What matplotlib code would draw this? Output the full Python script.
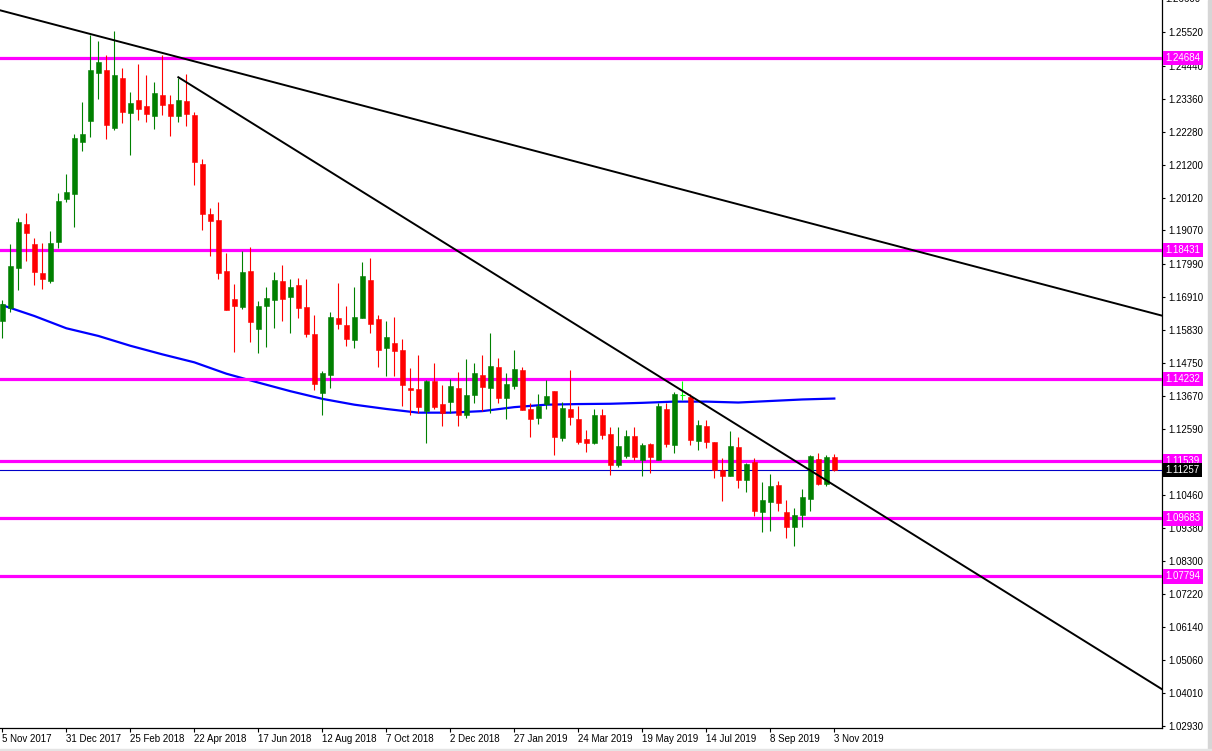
import numpy as np
import matplotlib
matplotlib.use("Agg")
import matplotlib.pyplot as plt
from matplotlib.patches import Rectangle
from matplotlib.transforms import blended_transform_factory, offset_copy


# ── data : weekly EURUSD candles, 5 Nov 2017 .. 3 Nov 2019 ──────────────────

opens = [
    1.1613, 1.1653, 1.1785, 1.1928, 1.1863, 1.1768, 1.1743, 1.1870, 1.2010, 1.2026,
    1.2196, 1.2264, 1.2421, 1.2430, 1.2242, 1.2404, 1.2290, 1.2331, 1.2312, 1.2281,
    1.2349, 1.2318, 1.2281, 1.2328, 1.2283, 1.2123, 1.1960, 1.1941, 1.1774, 1.1683,
    1.1657, 1.1774, 1.1584, 1.1662, 1.1681, 1.1742, 1.1691, 1.1729, 1.1657, 1.1570,
    1.1378, 1.1437, 1.1622, 1.1599, 1.1550, 1.1623, 1.1745, 1.1618, 1.1524, 1.1540,
    1.1518, 1.1394, 1.1391, 1.1320, 1.1416, 1.1341, 1.1349, 1.1393, 1.1304, 1.1372,
    1.1436, 1.1394, 1.1462, 1.1362, 1.1400, 1.1452, 1.1325, 1.1294, 1.1341, 1.1384,
    1.1231, 1.1325, 1.1293, 1.1227, 1.1215, 1.1306, 1.1243, 1.1143, 1.1172, 1.1237,
    1.1159, 1.1211, 1.1159, 1.1325, 1.1207, 1.1371, 1.1364, 1.1221, 1.1269, 1.1217,
    1.1127, 1.1105, 1.1201, 1.1092, 1.1152, 1.0988, 1.1023, 1.1077, 1.0990, 1.0941,
    1.0981, 1.1033, 1.1162, 1.1082, 1.1168,
]
highs = [
    1.1679, 1.1862, 1.1948, 1.1965, 1.1882, 1.1866, 1.1905, 1.2030, 1.2090, 1.2222,
    1.2325, 1.2544, 1.2524, 1.2479, 1.2556, 1.2436, 1.2358, 1.2449, 1.2414, 1.2391,
    1.2479, 1.2349, 1.2404, 1.2417, 1.2294, 1.2139, 1.1980, 1.1999, 1.1833, 1.1732,
    1.1839, 1.1852, 1.1677, 1.1722, 1.1771, 1.1794, 1.1748, 1.1752, 1.1748, 1.1631,
    1.1449, 1.1641, 1.1735, 1.1661, 1.1722, 1.1803, 1.1816, 1.1631, 1.1613, 1.1625,
    1.1554, 1.1459, 1.1502, 1.1419, 1.1475, 1.1403, 1.1423, 1.1445, 1.1488, 1.1475,
    1.1501, 1.1572, 1.1491, 1.1441, 1.1517, 1.1462, 1.1345, 1.1374, 1.1419, 1.1384,
    1.1348, 1.1452, 1.1335, 1.1257, 1.1325, 1.1325, 1.1266, 1.1266, 1.1258, 1.1266,
    1.1214, 1.1214, 1.1345, 1.1345, 1.1380, 1.1416, 1.1374, 1.1289, 1.1289, 1.1217,
    1.1165, 1.1253, 1.1233, 1.1149, 1.1165, 1.1087, 1.1113, 1.1090, 1.1029, 1.1003,
    1.1064, 1.1175, 1.1181, 1.1175, 1.1178,
]
lows = [
    1.1555, 1.1640, 1.1713, 1.1808, 1.1730, 1.1717, 1.1737, 1.1850, 1.2000, 1.1917,
    1.2164, 1.2212, 1.2336, 1.2206, 1.2235, 1.2258, 1.2154, 1.2268, 1.2261, 1.2238,
    1.2284, 1.2216, 1.2261, 1.2248, 1.2056, 1.1909, 1.1823, 1.1749, 1.1646, 1.1511,
    1.1652, 1.1544, 1.1508, 1.1528, 1.1590, 1.1613, 1.1574, 1.1620, 1.1561, 1.1388,
    1.1304, 1.1394, 1.1584, 1.1531, 1.1524, 1.1620, 1.1571, 1.1463, 1.1433, 1.1433,
    1.1336, 1.1304, 1.1313, 1.1215, 1.1326, 1.1268, 1.1313, 1.1271, 1.1297, 1.1343,
    1.1317, 1.1313, 1.1346, 1.1291, 1.1390, 1.1322, 1.1234, 1.1277, 1.1326, 1.1176,
    1.1221, 1.1273, 1.1212, 1.1184, 1.1212, 1.1228, 1.1111, 1.1137, 1.1165, 1.1159,
    1.1108, 1.1116, 1.1159, 1.1201, 1.1182, 1.1354, 1.1207, 1.1191, 1.1199, 1.1101,
    1.1026, 1.1105, 1.1066, 1.1053, 1.0975, 1.0925, 1.0928, 1.0991, 1.0905, 1.0879,
    1.0941, 1.0991, 1.1077, 1.1075, 1.1123,
]
closes = [
    1.1666, 1.1792, 1.1934, 1.1900, 1.1772, 1.1749, 1.1866, 1.2003, 1.2032, 1.2207,
    1.2221, 1.2430, 1.2456, 1.2251, 1.2414, 1.2294, 1.2322, 1.2303, 1.2287, 1.2355,
    1.2316, 1.2281, 1.2331, 1.2287, 1.2130, 1.1961, 1.1938, 1.1769, 1.1648, 1.1662,
    1.1771, 1.1607, 1.1661, 1.1687, 1.1745, 1.1684, 1.1722, 1.1655, 1.1568, 1.1407,
    1.1442, 1.1625, 1.1603, 1.1554, 1.1625, 1.1758, 1.1603, 1.1518, 1.1560, 1.1515,
    1.1404, 1.1388, 1.1333, 1.1416, 1.1330, 1.1313, 1.1400, 1.1307, 1.1371, 1.1442,
    1.1398, 1.1465, 1.1361, 1.1406, 1.1455, 1.1323, 1.1291, 1.1335, 1.1367, 1.1234,
    1.1328, 1.1299, 1.1218, 1.1215, 1.1304, 1.1241, 1.1143, 1.1204, 1.1237, 1.1168,
    1.1207, 1.1168, 1.1335, 1.1211, 1.1374, 1.1371, 1.1224, 1.1272, 1.1218, 1.1127,
    1.1105, 1.1204, 1.1092, 1.1146, 1.0991, 1.1029, 1.1074, 1.1020, 1.0941, 1.0980,
    1.1039, 1.1172, 1.1082, 1.1168, 1.11257,
]

# moving average, read every 4th bar
ma_bars = list(range(0, 105, 4))
ma_vals = [
    1.1663, 1.1628, 1.1588, 1.1563, 1.1531, 1.1503, 1.1477, 1.1440, 1.1411,
    1.1383, 1.1358, 1.1339, 1.1325, 1.1313, 1.1313, 1.1318, 1.1331, 1.1339,
    1.1341, 1.1342, 1.1345, 1.1349, 1.1349, 1.1346, 1.1351, 1.1356, 1.1359,
]

# horizontal levels + current bid
levels = [1.24684, 1.18431, 1.14232, 1.11539, 1.09683, 1.07794]
bid = 1.11257

# trend lines: (bar index, price) anchors
upper_trend_bars = [-1, 146]
upper_trend_prices = [1.2629, 1.1622]
lower_trend_bars = [22, 146]
lower_trend_prices = [1.2406, 1.0395]

# axes ticks
price_ticks = [1.02930, 1.04010, 1.05060, 1.06140, 1.07220, 1.08300, 1.09380,
               1.10460, 1.11540, 1.12590, 1.13670, 1.14750, 1.15830, 1.16910,
               1.17990, 1.19070, 1.20120, 1.21200, 1.22280, 1.23360, 1.24440,
               1.25520]
date_bars = list(range(0, 105, 8))
date_labels = ["5 Nov 2017", "31 Dec 2017", "25 Feb 2018", "22 Apr 2018",
               "17 Jun 2018", "12 Aug 2018", "7 Oct 2018", "2 Dec 2018",
               "27 Jan 2019", "24 Mar 2019", "19 May 2019", "14 Jul 2019",
               "8 Sep 2019", "3 Nov 2019"]


# ── style ───────────────────────────────────────────────────────────────────

BULL = "#008000"
BEAR = "#FF0000"
DOJI = "#00FF00"
LEVEL = "#FF00FF"
MA_COL = "#0000FF"
BID_COL = "#0000C8"

plt.rcParams["font.family"] = ["Liberation Sans", "DejaVu Sans"]
FS = 7

W, H = 1212, 751
fig = plt.figure(figsize=(W / 100, H / 100), dpi=100)
ax = fig.add_axes([0, 23 / H, 1162 / W, 728 / H])
ax.set_xlim(-0.29, 144.96)
ax.set_ylim(1.02855, 1.26576)


# ── candles ─────────────────────────────────────────────────────────────────

idx = np.arange(len(opens))
o, h, l, c = (np.array(v) for v in (opens, highs, lows, closes))
up, dn, dj = c > o, c < o, c == o
body_w = 0.62

for mask, col in ((up, BULL), (dn, BEAR)):
    ax.vlines(idx[mask], l[mask], h[mask], color=col, lw=0.8, zorder=3)
    bot = np.minimum(o[mask], c[mask])
    ht = np.abs(c[mask] - o[mask])
    ax.bar(idx[mask], ht, bottom=bot, width=body_w, color=col,
           edgecolor=col, lw=0.4, zorder=3)

ax.vlines(idx[dj], l[dj], h[dj], color=DOJI, lw=0.8, zorder=3)
ax.hlines(c[dj], idx[dj] - body_w / 2, idx[dj] + body_w / 2,
          color=DOJI, lw=0.8, zorder=3)


# ── indicators / drawings ───────────────────────────────────────────────────

ax.plot(ma_bars, ma_vals, color=MA_COL, lw=1.6, zorder=2)
ax.plot(upper_trend_bars, upper_trend_prices, color="black", lw=1.4, zorder=4)
ax.plot(lower_trend_bars, lower_trend_prices, color="black", lw=1.4, zorder=4)

for lv in levels:
    ax.axhline(lv, color=LEVEL, lw=2.3, zorder=2.6)
ax.axhline(bid, color=BID_COL, lw=0.8, zorder=2.6)


# ── axes ────────────────────────────────────────────────────────────────────

for side in ("left", "top"):
    ax.spines[side].set_visible(False)
for side in ("right", "bottom"):
    ax.spines[side].set_linewidth(0.9)
    ax.spines[side].set_color("black")

ax.yaxis.tick_right()
ax.set_yticks(price_ticks)
ax.set_yticklabels([f"{p:.5f}" for p in price_ticks])
ax.tick_params(axis="y", direction="out", length=2.5, width=0.8, pad=2,
               labelsize=FS)

ax.set_xticks(date_bars)
ax.set_xticklabels(date_labels, ha="left")
ax.tick_params(axis="x", direction="out", length=3, width=0.8, pad=1.5,
               labelsize=FS)

# price tags on the right scale
trans = blended_transform_factory(ax.transAxes, ax.transData)
tag_trans = offset_copy(trans, fig=fig, x=3.5, y=0, units="dots")


def price_tag(price, face, text_col="white"):
    ax.text(1.0, price, f"{price:.5f}", transform=tag_trans, ha="left",
            va="center", fontsize=FS, color=text_col, clip_on=False,
            zorder=10,
            bbox=dict(boxstyle="square,pad=0.22", fc=face, ec="none"))


for lv in levels:
    price_tag(lv, LEVEL)
price_tag(bid, "black")

# top label, half cut by the window edge
ax.text(1.0, 1.26600, "1.26600", transform=tag_trans, ha="left", va="center",
        fontsize=FS, clip_on=False)

# window frame bits
fig.patches.append(Rectangle((1208 / W, 0), 4 / W, 1, transform=fig.transFigure,
                             color="#d6d6d6", zorder=0))
fig.patches.append(Rectangle((0, 0), 1, 2 / H, transform=fig.transFigure,
                             color="#e4e4e4", zorder=0))

fig.savefig("out.png", dpi=100)
plt.close(fig)
